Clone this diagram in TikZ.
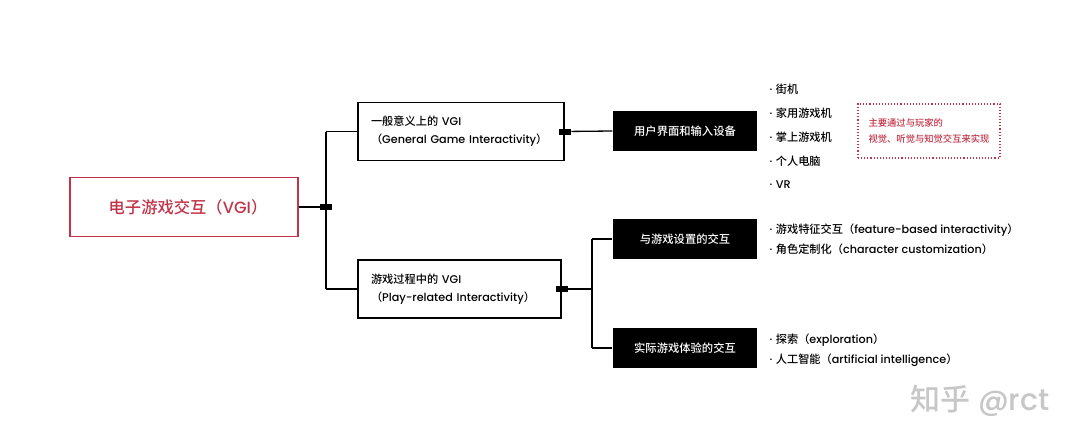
\documentclass[tikz,border=0pt]{standalone}
\usepackage{fontspec}
\setmainfont{Poppins}[UprightFont=* Medium]
\newfontfamily\cjk{Noto Sans CJK SC}[UprightFont=* Medium]
\newcommand{\zh}[1]{{\cjk #1}}
\definecolor{vgired}{RGB}{192,52,72}
\def\itemsep{24}

\begin{document}
\begin{tikzpicture}[x=1pt,y=-1pt,line width=1.3pt]
    \tikzstyle{rootbox}=[draw=vgired,text=vgired,minimum width=228pt,minimum height=59pt,inner sep=0pt,font=\fontsize{16.3}{18}\selectfont]
    \tikzstyle{levelbox}=[draw,minimum height=58pt,inner xsep=13pt,align=left,font=\fontsize{11.2}{18}\selectfont]
    \tikzstyle{blackbox}=[fill=black,text=white,minimum width=144pt,minimum height=40pt,inner sep=0pt,font=\fontsize{11.3}{12}\selectfont]
    \tikzstyle{marker}=[fill=black,minimum width=12pt,minimum height=6pt,inner sep=0pt]
    \tikzstyle{item}=[anchor=west,inner sep=0pt,font=\fontsize{11.2}{12}\selectfont]
    \tikzstyle{note}=[draw=vgired,dotted,line width=1.1pt,text=vgired,minimum width=142pt,minimum height=54pt,align=left,font=\fontsize{9.3}{16}\selectfont]

    \useasboundingbox (0,0) rectangle (1080,447);

    \node[rootbox] (VGI) at (184,207) {\hspace{8pt}\zh{电子游戏交互（}VGI\zh{）}};
    \node[levelbox,text width=180pt] (L-1) at (461,131.5) {\zh{一般意义上的} VGI\\\zh{（}General Game Interactivity\zh{）}};
    \node[levelbox,text width=177pt] (L-2) at (459.5,289) {\zh{游戏过程中的} VGI\\\zh{（}Play-related Interactivity\zh{）}};

    \node[blackbox] (B-1) at (685,131) {\zh{用户界面和输入设备}};
    \node[blackbox] (B-2) at (685,239) {\zh{与游戏设置的交互}};
    \node[blackbox] (B-3) at (685,348) {\zh{实际游戏体验的交互}};

    \coordinate (J-0) at (326,207);
    \coordinate (J-2) at (592,289);

    % root to first level
    \draw (VGI.east) -- (J-0);
    \draw (J-0 |- L-1.west) -- (L-1.west);
    \draw (J-0 |- L-2.west) -- (L-2.west);
    \draw (J-0 |- L-1.west) -- (J-0 |- L-2.west);
    \node[marker] (M-0) at (J-0) {};

    % first level to black boxes
    \node[marker] (M-1) at (L-1.east) {};
    \draw (M-1) -- (B-1.west);
    \node[marker] (M-2) at (L-2.east) {};
    \draw (M-2) -- (J-2);
    \draw (J-2 |- B-2.west) -- (J-2 |- B-3.west);
    \draw (J-2 |- B-2.west) -- (B-2.west);
    \draw (J-2 |- B-3.west) -- (B-3.west);

    % devices
    \foreach \txt [count=\i] in {\zh{街机},\zh{家用游戏机},\zh{掌上游戏机},\zh{个人电脑},VR}
        \node[item] (D-\i) at (769,89+\itemsep*\i-\itemsep) {·\hspace{3.5pt}\txt};

    \node[item] (S-1) at (769,230) {·\hspace{3.5pt}\zh{游戏特征交互（}feature-based interactivity\zh{）}};
    \node[item] (S-2) at (769,249) {·\hspace{3.5pt}\zh{角色定制化（}character customization\zh{）}};
    \node[item] (P-1) at (769,340) {·\hspace{3.5pt}\zh{探索（}exploration\zh{）}};
    \node[item] (P-2) at (769,360) {·\hspace{3.5pt}\zh{人工智能（}artificial intelligence\zh{）}};

    \node[note] (N) at (929,131) {\zh{主要通过与玩家的}\\\zh{视觉、听觉与知觉交互来实现}};

    \node[text=black!22,font=\fontsize{30}{32}\selectfont] (W) at (980,401) {\zh{知乎} @rct};
\end{tikzpicture}
\end{document}
